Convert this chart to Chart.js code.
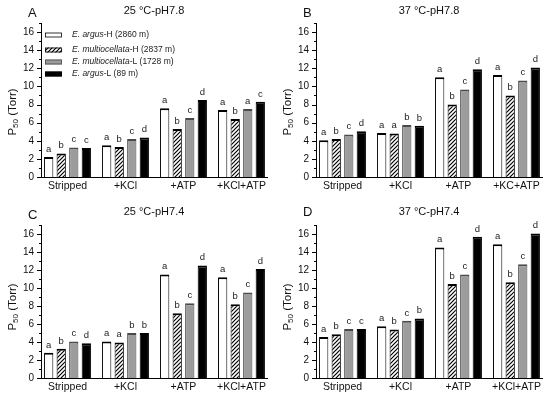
<!DOCTYPE html>
<html><head><meta charset="utf-8">
<script src="https://cdn.jsdelivr.net/npm/chart.js@4"></script>
<style>
html,body{margin:0;padding:0;background:#fff;}
#wrap{position:relative;width:550px;height:398px;overflow:hidden;}
.p{position:absolute;width:275px;height:199px;}
canvas{display:block;}
</style></head>
<body><div id="wrap">
<div class="p" style="left:0;top:0"><canvas id="cA" width="275" height="199"></canvas></div>
<div class="p" style="left:275px;top:0"><canvas id="cB" width="275" height="199"></canvas></div>
<div class="p" style="left:0;top:199px"><canvas id="cC" width="275" height="199"></canvas></div>
<div class="p" style="left:275px;top:199px"><canvas id="cD" width="275" height="199"></canvas></div>
</div>
<script>
// ---- data ----
const categories = ['Stripped', '+KCl', '+ATP', '+KCl+ATP'];
const categoriesB = ['Stripped', '+KCl', '+ATP', '+KC+ATP'];
const seriesItalic = ['E. argus', 'E. multiocellata', 'E. multiocellata', 'E. argus'];
const seriesRest = ['-H (2860 m)', '-H (2837 m)', '-L (1728 m)', '-L (89 m)'];
const yMax = 17;
const panelLetters = ['A', 'B', 'C', 'D'];
const panelTitles = ['25 °C-pH7.8', '37 °C-pH7.8', '25 °C-pH7.4', '37 °C-pH7.4'];

const A_argusH = [2.2, 3.5, 7.6, 7.4];
const A_multiH = [2.6, 3.3, 5.3, 6.4];
const A_multiL = [3.25, 4.2, 6.5, 7.5];
const A_argusL = [3.2, 4.35, 8.5, 8.3];

const B_argusH = [4.05, 4.85, 11.0, 11.25];
const B_multiH = [4.2, 4.8, 8.0, 9.0];
const B_multiL = [4.7, 5.75, 9.65, 10.65];
const B_argusL = [5.05, 5.65, 11.9, 12.1];

const C_argusH = [2.8, 4.05, 11.5, 11.2];
const C_multiH = [3.25, 3.95, 7.2, 8.2];
const C_multiL = [4.05, 5.0, 8.3, 9.5];
const C_argusL = [3.85, 5.0, 12.5, 12.1];

const D_argusH = [4.55, 5.75, 14.5, 14.85];
const D_multiH = [4.85, 5.4, 10.45, 10.65];
const D_multiL = [5.45, 6.35, 11.5, 12.65];
const D_argusL = [5.45, 6.6, 15.7, 16.05];

const A_letters = [['a','a','a','a'], ['b','b','b','b'], ['c','c','c','a'], ['c','d','d','c']];
const B_letters = [['a','a','a','a'], ['b','a','b','b'], ['c','b','c','c'], ['d','b','d','d']];
const C_letters = [['a','a','a','a'], ['b','a','b','b'], ['c','b','c','c'], ['d','b','d','d']];
const D_letters = [['a','a','a','a'], ['b','b','b','b'], ['c','c','c','c'], ['c','b','d','d']];

// ---- styles ----
const FONT = 'Arial, "Liberation Sans", sans-serif';
function hatch() {
  const c = document.createElement('canvas');
  c.width = 4; c.height = 4;
  const x = c.getContext('2d');
  x.fillStyle = '#fff'; x.fillRect(0, 0, 4, 4);
  x.strokeStyle = '#000'; x.lineWidth = 1.2;
  x.beginPath();
  x.moveTo(-1, 5); x.lineTo(5, -1);
  x.moveTo(-1, 1); x.lineTo(1, -1);
  x.moveTo(3, 5); x.lineTo(5, 3);
  x.stroke();
  return x.createPattern(c, 'repeat');
}
const HATCH = hatch();
const fills = ['#ffffff', HATCH, '#9c9c9c', '#000000'];
const borders = ['#000000', '#000000', '#4a4a4a', '#000000'];

const decor = {
  id: 'decor',
  afterDatasetsDraw(chart, args, o) {
    const ctx = chart.ctx;
    ctx.save();
    // letters above bars
    ctx.fillStyle = '#222';
    ctx.font = '9.5px ' + FONT;
    ctx.textAlign = 'center';
    ctx.textBaseline = 'bottom';
    chart.data.datasets.forEach((ds, i) => {
      chart.getDatasetMeta(i).data.forEach((bar, j) => {
        ctx.fillText(o.letters[i][j], bar.x, bar.y - 3);
      });
    });
    // y ticks (major + minor)
    const y = chart.scales.y, left = chart.chartArea.left;
    ctx.strokeStyle = '#000'; ctx.lineWidth = 1;
    ctx.beginPath();
    for (let v = 0; v <= yMax; v++) {
      const py = Math.round(y.getPixelForValue(v)) + 0.5;
      const len = v % 2 === 0 ? 4 : 2;
      ctx.moveTo(left - len, py); ctx.lineTo(left, py);
    }
    ctx.stroke();
    // panel letter & title
    ctx.fillStyle = '#111';
    ctx.textBaseline = 'middle';
    ctx.font = '13px ' + FONT;
    ctx.textAlign = 'left';
    ctx.fillText(o.letter, o.letterX, o.letterY);
    ctx.font = '11px ' + FONT;
    ctx.textAlign = 'center';
    ctx.fillText(o.title, 154, o.titleY);
    // y title with subscript
    ctx.translate(13, o.yTitleY);
    ctx.rotate(-Math.PI / 2);
    ctx.textAlign = 'left';
    ctx.textBaseline = 'middle';
    const f1 = '11.5px ' + FONT, f2 = '8px ' + FONT;
    ctx.font = f1; const w1 = ctx.measureText('P').width;
    ctx.font = f2; const w2 = ctx.measureText('50').width;
    ctx.font = f1; const w3 = ctx.measureText(' (Torr)').width;
    let sx = -(w1 + w2 + w3) / 2;
    ctx.font = f1; ctx.fillText('P', sx, 0); sx += w1;
    ctx.font = f2; ctx.fillText('50', sx, 3); sx += w2;
    ctx.font = f1; ctx.fillText(' (Torr)', sx, 0);
    ctx.restore();
    // legend
    if (o.legend) {
      ctx.save();
      const rows = [35, 50, 62, 74];
      rows.forEach((ry, i) => {
        ctx.fillStyle = fills[i];
        ctx.fillRect(45, ry - 2.5, 17, 5);
        ctx.strokeStyle = borders[i]; ctx.lineWidth = 0.8;
        ctx.strokeRect(45.5, ry - 2, 16, 4);
        ctx.fillStyle = '#222';
        ctx.textBaseline = 'middle'; ctx.textAlign = 'left';
        ctx.font = 'italic 8.5px ' + FONT;
        ctx.fillText(seriesItalic[i], 72, ry);
        const w = ctx.measureText(seriesItalic[i]).width;
        ctx.font = '8.5px ' + FONT;
        ctx.fillText(seriesRest[i], 72 + w, ry);
      });
      ctx.restore();
    }
  }
};

function makePanel(id, cats, series, letters, idx, top, bottom, extra) {
  const datasets = series.map((d, i) => ({
    label: seriesItalic[i] + seriesRest[i],
    data: d.map((v, j) => ({x: j, y: v})),
    backgroundColor: fills[i],
    borderColor: borders[i],
    borderWidth: {top: 2, left: 1, right: 1, bottom: 0},
    borderSkipped: false,
    categoryPercentage: 0.865,
    barPercentage: 0.74
  }));
  new Chart(document.getElementById(id), {
    type: 'bar',
    data: {datasets},
    options: {
      responsive: false, animation: false,
      layout: {padding: {left: 0, right: 8, top: top, bottom: 0}},
      plugins: {
        legend: {display: false}, tooltip: {enabled: false},
        decor: Object.assign({letters, letter: panelLetters[idx], title: panelTitles[idx]}, extra)
      },
      scales: {
        x: {
          type: 'linear', offset: false,
          min: -0.457, max: 3.44,
          grid: {display: false, drawTicks: false},
          border: {display: true, color: '#000', width: 1},
          afterBuildTicks: s => { s.ticks = cats.map((c, j) => ({value: j})); },
          ticks: {color: '#111', font: {family: FONT, size: 10.5}, padding: 3, maxRotation: 0, autoSkip: false,
            callback: v => cats[v]},
          afterFit: s => { s.height = 199 - bottom; }
        },
        y: {
          min: 0, max: yMax,
          grid: {display: false, drawTicks: false},
          border: {display: true, color: '#000', width: 1},
          ticks: {stepSize: 1, autoSkip: false, color: '#111', font: {family: FONT, size: 10}, padding: 7,
            callback: v => (v % 2 === 0 ? String(v) : '')},
          afterFit: s => { s.width = 41; }
        }
      }
    },
    plugins: [decor]
  });
}

makePanel('cA', categories, [A_argusH, A_multiH, A_multiL, A_argusL], A_letters, 0, 23, 177,
  {letterX: 28, letterY: 13, titleY: 11, yTitleY: 112, legend: true});
makePanel('cB', categoriesB, [B_argusH, B_multiH, B_multiL, B_argusL], B_letters, 1, 23, 177,
  {letterX: 28, letterY: 13, titleY: 11, yTitleY: 112, legend: false});
makePanel('cC', categories, [C_argusH, C_multiH, C_multiL, C_argusL], C_letters, 2, 26, 179,
  {letterX: 28, letterY: 16, titleY: 13, yTitleY: 108, legend: false});
makePanel('cD', categories, [D_argusH, D_multiH, D_multiL, D_argusL], D_letters, 3, 26, 179,
  {letterX: 28, letterY: 13, titleY: 13, yTitleY: 108, legend: false});
</script>
</body></html>
